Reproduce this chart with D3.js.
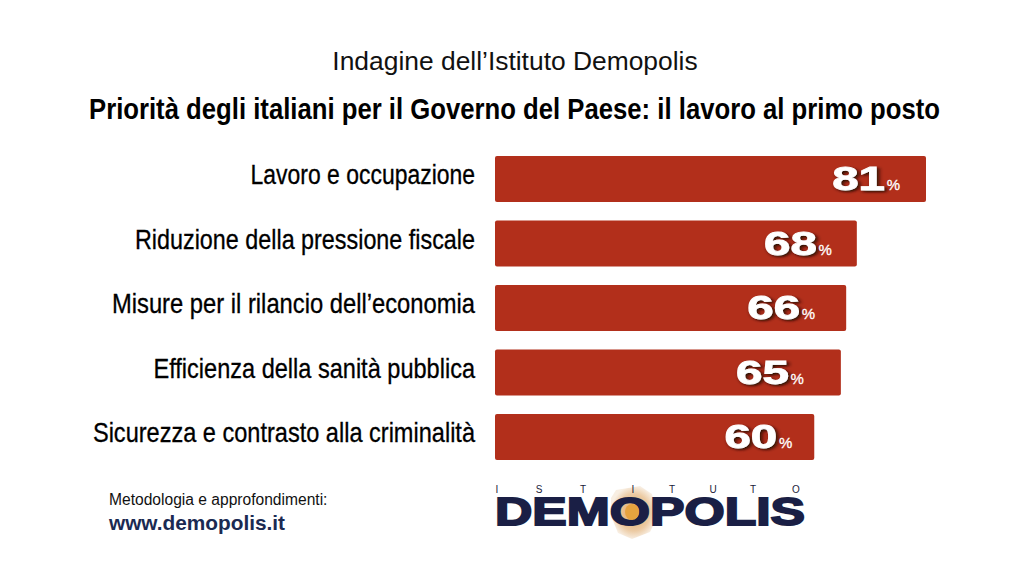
<!DOCTYPE html>
<html>
<head>
<meta charset="utf-8">
<script src="https://cdn.jsdelivr.net/npm/d3@7"></script>
<style>
  html, body { margin: 0; padding: 0; background: #fff; }
  svg { display: block; }
</style>
</head>
<body>
<div id="chart"></div>
<script>
const categories = [
  'Lavoro e occupazione',
  'Riduzione della pressione fiscale',
  'Misure per il rilancio dell’economia',
  'Efficienza della sanità pubblica',
  'Sicurezza e contrasto alla criminalità',
];
const values = [81, 68, 66, 65, 60];
const logoLetters = ['I', 'S', 'T', 'I', 'T', 'U', 'T', 'O'];

const width = 1024;
const height = 576;
const sans = '"Liberation Sans", Arial, sans-serif';
// the value labels do not sit at a fixed distance from the bar end
const labelInset = [26, 25, 31, 37, 22];
// squeeze per label, the original condensed face has different proportions
const labelSqueeze = [0.85, 0.865, 0.88, 0.872, 0.872];
// letter spacing in the logo is uneven
const logoLetterX = [497, 539, 583, 633, 672, 713, 753, 796];

const svg = d3.select('#chart').append('svg')
  .attr('width', width)
  .attr('height', height);

const defs = svg.append('defs');
const shadow = defs.append('filter').attr('id', 'num-shadow')
  .attr('x', '-20%').attr('y', '-20%').attr('width', '140%').attr('height', '140%');
shadow.append('feDropShadow')
  .attr('dx', 1.5).attr('dy', 1.5).attr('stdDeviation', 1.3)
  .attr('flood-color', '#2a0803').attr('flood-opacity', 1);
const glow = defs.append('radialGradient').attr('id', 'logo-glow');
glow.append('stop').attr('offset', '0%').attr('stop-color', '#e3a458');
glow.append('stop').attr('offset', '70%').attr('stop-color', '#eccba4');
glow.append('stop').attr('offset', '100%').attr('stop-color', '#f8eee2');

const xScale = d3.scaleLinear().domain([0, 81]).range([495, 926]);
const yScale = d3.scaleBand().domain(categories).range([156, 460]).paddingInner(0.287);

svg.append('text')
  .attr('x', 515).attr('y', 70)
  .attr('text-anchor', 'middle')
  .style('font', `26.4px ${sans}`)
  .style('fill', '#111')
  .text('Indagine dell’Istituto Demopolis');

// no condensed face is installed, so squeeze the regular one
svg.append('text')
  .attr('transform', 'translate(514.5,119) scale(0.857,1)')
  .attr('text-anchor', 'middle')
  .style('font', `bold 30px ${sans}`)
  .style('fill', '#000')
  .text('Priorità degli italiani per il Governo del Paese: il lavoro al primo posto');

const rows = svg.selectAll('.row')
  .data(categories)
  .enter()
  .append('g')
  .attr('class', 'row');

rows.append('rect')
  .attr('x', xScale(0))
  .attr('y', (d) => yScale(d))
  .attr('width', (d, i) => xScale(values[i]) - xScale(0))
  .attr('height', yScale.bandwidth())
  .attr('rx', 2)
  .style('fill', '#b22f1b');

rows.append('text')
  .attr('transform', (d, i) => `translate(475,${yScale(d) + 28}) scale(${labelSqueeze[i]},1)`)
  .attr('text-anchor', 'end')
  .style('font', `27px ${sans}`)
  .style('fill', '#000')
  .style('stroke', '#000')
  .style('stroke-width', 0.3)
  .text((d) => d);

// wide bold numbers: the original face is an extended one, so stretch it
rows.append('text')
  .attr('transform', (d, i) => `translate(${xScale(values[i]) - labelInset[i] - 15},${yScale(d) + 34}) scale(1.44,1)`)
  .attr('text-anchor', 'end')
  .attr('filter', 'url(#num-shadow)')
  .style('font', `bold 33px ${sans}`)
  .style('fill', '#fff')
  .style('stroke', '#fff')
  .style('stroke-width', 0.8)
  .text((d, i) => values[i]);

rows.append('text')
  .attr('x', (d, i) => xScale(values[i]) - labelInset[i])
  .attr('y', (d) => yScale(d) + 34)
  .attr('text-anchor', 'end')
  .style('font', `15px ${sans}`)
  .style('fill', '#fff')
  .style('stroke', '#fff')
  .style('stroke-width', 0.3)
  .text('%');

svg.append('text')
  .attr('x', 109).attr('y', 505)
  .style('font', `15.6px ${sans}`)
  .style('fill', '#111')
  .text('Metodologia e approfondimenti:');

svg.append('text')
  .attr('x', 109).attr('y', 530)
  .style('font', `bold 20.8px ${sans}`)
  .style('fill', '#1b2a52')
  .text('www.demopolis.it');

// logo
const logo = svg.append('g').attr('class', 'logo');
logo.append('path')
  .attr('d', 'M616,490 L640,486 L652,494 L657,518 L650,532 L632,539 L618,533 L611,516 L611,498 Z')
  .style('fill', 'url(#logo-glow)');

logo.selectAll('.logo-letter')
  .data(logoLetters)
  .enter()
  .append('text')
  .attr('class', 'logo-letter')
  .attr('x', (d, i) => logoLetterX[i])
  .attr('y', 493)
  .attr('text-anchor', 'middle')
  .style('font', `10px ${sans}`)
  .style('fill', '#1c1c3a')
  .text((d) => d);

logo.append('text')
  .attr('transform', 'translate(495,525) scale(1.36,1)')
  .style('font', `900 38px ${sans}`)
  .style('stroke', '#1a1f45')
  .style('stroke-width', 1.8)
  .style('fill', '#1a1f45')
  .text('DEMOPOLIS');

logo.append('ellipse')
  .attr('cx', 632).attr('cy', 512).attr('rx', 7).attr('ry', 8)
  .style('fill', '#e5a33f');
</script>
</body>
</html>
